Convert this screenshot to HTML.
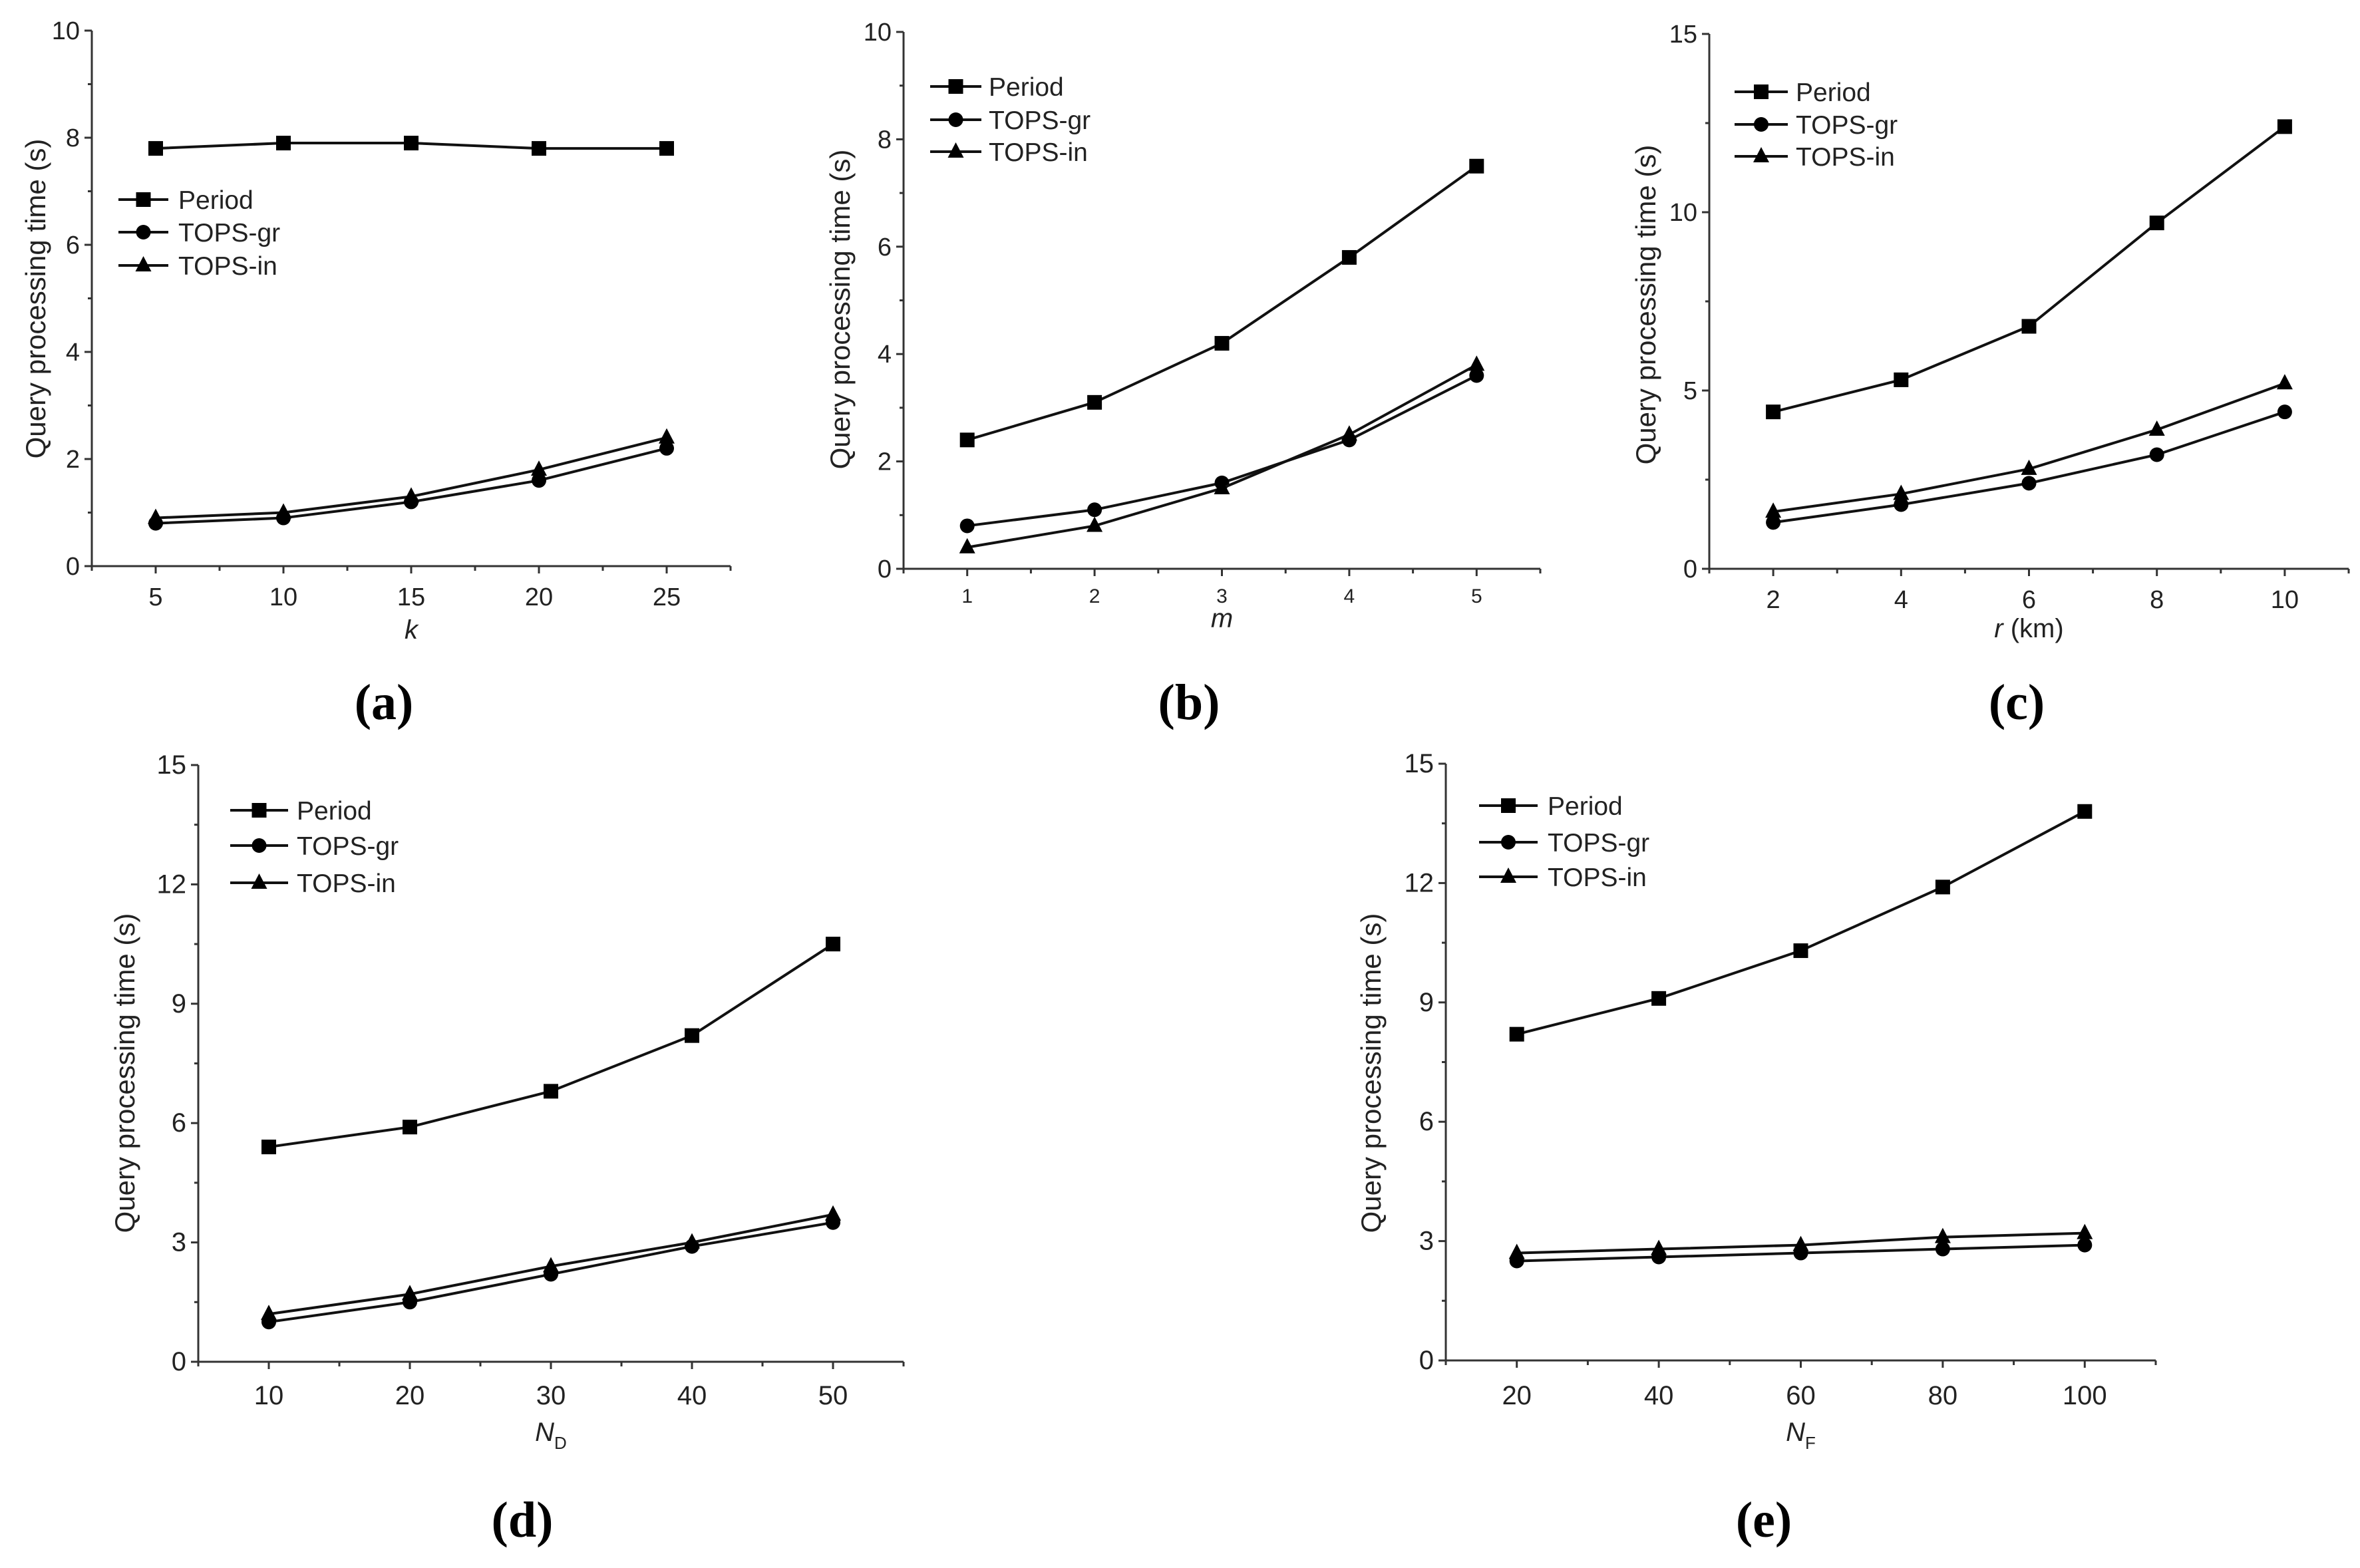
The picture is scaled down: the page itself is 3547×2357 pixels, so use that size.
<!DOCTYPE html>
<html><head><meta charset="utf-8"><style>
html,body{margin:0;padding:0;background:#fff;}
svg{display:block;}
text{font-family:"Liberation Sans",Arial,sans-serif;fill:#222;}
.pl{font-family:"Liberation Serif",serif;font-weight:bold;font-size:76px;fill:#000;}
</style></head><body>
<svg id="fig" width="3547" height="2357" viewBox="0 0 3547 2357" xmlns="http://www.w3.org/2000/svg"></svg>
<script>
// Panel (a)
const aX = [5, 10, 15, 20, 25];
const aPeriod = [7.8, 7.9, 7.9, 7.8, 7.8];
const aGr = [0.8, 0.9, 1.2, 1.6, 2.2];
const aIn = [0.9, 1.0, 1.3, 1.8, 2.4];
const aYTicks = [0, 2, 4, 6, 8, 10];
// Panel (b)
const bX = [1, 2, 3, 4, 5];
const bPeriod = [2.4, 3.1, 4.2, 5.8, 7.5];
const bGr = [0.8, 1.1, 1.6, 2.4, 3.6];
const bIn = [0.4, 0.8, 1.5, 2.5, 3.8];
const bYTicks = [0, 2, 4, 6, 8, 10];
// Panel (c)
const cX = [2, 4, 6, 8, 10];
const cPeriod = [4.4, 5.3, 6.8, 9.7, 12.4];
const cGr = [1.3, 1.8, 2.4, 3.2, 4.4];
const cIn = [1.6, 2.1, 2.8, 3.9, 5.2];
const cYTicks = [0, 5, 10, 15];
// Panel (d)
const dX = [10, 20, 30, 40, 50];
const dPeriod = [5.4, 5.9, 6.8, 8.2, 10.5];
const dGr = [1.0, 1.5, 2.2, 2.9, 3.5];
const dIn = [1.2, 1.7, 2.4, 3.0, 3.7];
const dYTicks = [0, 3, 6, 9, 12, 15];
// Panel (e)
const eX = [20, 40, 60, 80, 100];
const ePeriod = [8.2, 9.1, 10.3, 11.9, 13.8];
const eGr = [2.5, 2.6, 2.7, 2.8, 2.9];
const eIn = [2.7, 2.8, 2.9, 3.1, 3.2];
const eYTicks = [0, 3, 6, 9, 12, 15];
const seriesNames = ["Period", "TOPS-gr", "TOPS-in"];

const NS = "http://www.w3.org/2000/svg";
const svg = document.getElementById("fig");
function mk(tag, attrs, parent) {
  const e = document.createElementNS(NS, tag);
  for (const k in attrs) e.setAttribute(k, attrs[k]);
  (parent || svg).appendChild(e);
  return e;
}

function panel(p) {
  const g = mk("g", {});
  
  
  const sx = v => p.x0 + (v - p.xmin) / (p.xmax - p.xmin) * (p.x1 - p.x0);
  const sy = v => p.y0 - (v - p.ymin) / (p.ymax - p.ymin) * (p.y0 - p.y1);
  const ax = mk("path", {d: `M${p.x0} ${p.y1} V${p.y0} H${p.x1}`, stroke: "#333", "stroke-width": 3, fill: "none"}, g);
  
  
  const yt = p.yticks;
  const ystep = yt[1] - yt[0];
  for (let i = 0; i < yt.length; i++) {
    const y = sy(yt[i]);
    mk("line", {x1: p.x0 - 11, x2: p.x0, y1: y, y2: y, stroke: "#333", "stroke-width": 3}, g);
    const t = mk("text", {x: p.x0 - 18, y: y + 13, "text-anchor": "end", "font-size": p.fs}, g);
    t.textContent = yt[i];
    
    
    if (i < yt.length - 1) {
      const ym = sy(yt[i] + ystep / 2);
      mk("line", {x1: p.x0 - 6, x2: p.x0, y1: ym, y2: ym, stroke: "#333", "stroke-width": 3}, g);
    }
  }
  const xs = p.xs;
  const xstep = xs[1] - xs[0];
  const minorStart = xs[0] - xstep / 2;
  for (let v = minorStart; v <= p.xmax + 1e-9; v += xstep) {
    mk("line", {x1: sx(v), x2: sx(v), y1: p.y0, y2: p.y0 + 7, stroke: "#333", "stroke-width": 3}, g);
  }
  for (let i = 0; i < xs.length; i++) {
    const x = sx(xs[i]);
    mk("line", {x1: x, x2: x, y1: p.y0, y2: p.y0 + 11, stroke: "#333", "stroke-width": 3}, g);
    const t = mk("text", {x: x, y: p.xly, "text-anchor": "middle", "font-size": p.xfs || p.fs}, g);
    t.textContent = xs[i];
    
    
  }
  const xt = mk("text", {x: (sx(xs[0]) + sx(xs[4])) / 2, y: p.xty, "text-anchor": "middle", "font-size": 40}, g);
  xt.innerHTML = p.xtitle;
  
  
  const ytl = mk("text", {x: 0, y: 0, "text-anchor": "middle", "font-size": 42, transform: `translate(${p.ytx},${p.yty}) rotate(-90)`}, g);
  ytl.textContent = "Query processing time (s)";
  
  
  const data = [p.period, p.gr, p.inn];
  const shapes = ["square", "circle", "triangle"];
  function marker(shape, x, y, parent) {
    let m;
    if (shape === "square") m = mk("rect", {x: x - 11, y: y - 11, width: 22, height: 22, fill: "#000"}, parent);
    else if (shape === "circle") m = mk("circle", {cx: x, cy: y, r: 11, fill: "#000"}, parent);
    else m = mk("polygon", {points: `${x},${y - 14} ${x - 12},${y + 9} ${x + 12},${y + 9}`, fill: "#000"}, parent);
    return m;
  }
  for (let s = 0; s < 3; s++) {
    const sg = mk("g", {}, g);
    
    
    const pts = xs.map((v, i) => sx(v) + "," + sy(data[s][i])).join(" ");
    mk("polyline", {points: pts, fill: "none", stroke: "#111", "stroke-width": 4}, sg);
    for (let i = 0; i < xs.length; i++) {
      const m = marker(shapes[s], sx(xs[i]), sy(data[s][i]), sg);
      
      
    }
  }
  const lg = mk("g", {}, g);
  
  
  for (let s = 0; s < 3; s++) {
    const y = p.lgy[s];
    const eg = mk("g", {}, lg);
    
    
    mk("line", {x1: p.lgx0, x2: p.lgx1, y1: y, y2: y, stroke: "#111", "stroke-width": 4}, eg);
    marker(shapes[s], (p.lgx0 + p.lgx1) / 2, y, eg);
    const t = mk("text", {x: p.lgt, y: y + 14, "font-size": 39}, eg);
    t.textContent = seriesNames[s];
  }
  const pl = mk("text", {x: p.plx, y: p.ply + 25, "text-anchor": "middle", class: "pl"}, g);
  pl.textContent = "(" + p.id + ")";
  
  
}

panel({id: "a", x0: 138, x1: 1098, y0: 851, y1: 46, xmin: 2.5, xmax: 27.5, ymin: 0, ymax: 10,
  xs: aX, period: aPeriod, gr: aGr, inn: aIn, yticks: aYTicks, fs: 38,
  xly: 910, xty: 960, xtitle: '<tspan font-style="italic">k</tspan>', ytx: 68, yty: 449,
  lgy: [300, 349, 399], lgx0: 178, lgx1: 253, lgt: 268, plx: 577, ply: 1056});
panel({id: "b", x0: 1358, x1: 2315, y0: 855, y1: 48, xmin: 0.5, xmax: 5.5, ymin: 0, ymax: 10,
  xs: bX, period: bPeriod, gr: bGr, inn: bIn, yticks: bYTicks, fs: 38, xfs: 30,
  xly: 906, xty: 943, xtitle: '<tspan font-style="italic">m</tspan>', ytx: 1277, yty: 465,
  lgy: [130, 180, 228], lgx0: 1398, lgx1: 1475, lgt: 1486, plx: 1787, ply: 1056});
panel({id: "c", x0: 2569, x1: 3530, y0: 855, y1: 51, xmin: 1, xmax: 11, ymin: 0, ymax: 15,
  xs: cX, period: cPeriod, gr: cGr, inn: cIn, yticks: cYTicks, fs: 38,
  xly: 914, xty: 958, xtitle: '<tspan font-style="italic">r</tspan> (km)', ytx: 2488, yty: 458,
  lgy: [138, 187, 235], lgx0: 2607, lgx1: 2687, lgt: 2699, plx: 3031, ply: 1056});
panel({id: "d", x0: 298, x1: 1358, y0: 2047, y1: 1150, xmin: 5, xmax: 55, ymin: 0, ymax: 15,
  xs: dX, period: dPeriod, gr: dGr, inn: dIn, yticks: dYTicks, fs: 40,
  xly: 2111, xty: 2166, xtitle: '<tspan font-style="italic">N</tspan><tspan font-size="26" dy="12">D</tspan>', ytx: 202, yty: 1613,
  lgy: [1218, 1271, 1327], lgx0: 346, lgx1: 433, lgt: 446, plx: 785, ply: 2285});
panel({id: "e", x0: 2173, x1: 3240, y0: 2045, y1: 1148, xmin: 10, xmax: 110, ymin: 0, ymax: 15,
  xs: eX, period: ePeriod, gr: eGr, inn: eIn, yticks: eYTicks, fs: 40,
  xly: 2111, xty: 2166, xtitle: '<tspan font-style="italic">N</tspan><tspan font-size="26" dy="12">F</tspan>', ytx: 2075, yty: 1613,
  lgy: [1211, 1266, 1318], lgx0: 2223, lgx1: 2311, lgt: 2326, plx: 2651, ply: 2285});
</script>
</body></html>
